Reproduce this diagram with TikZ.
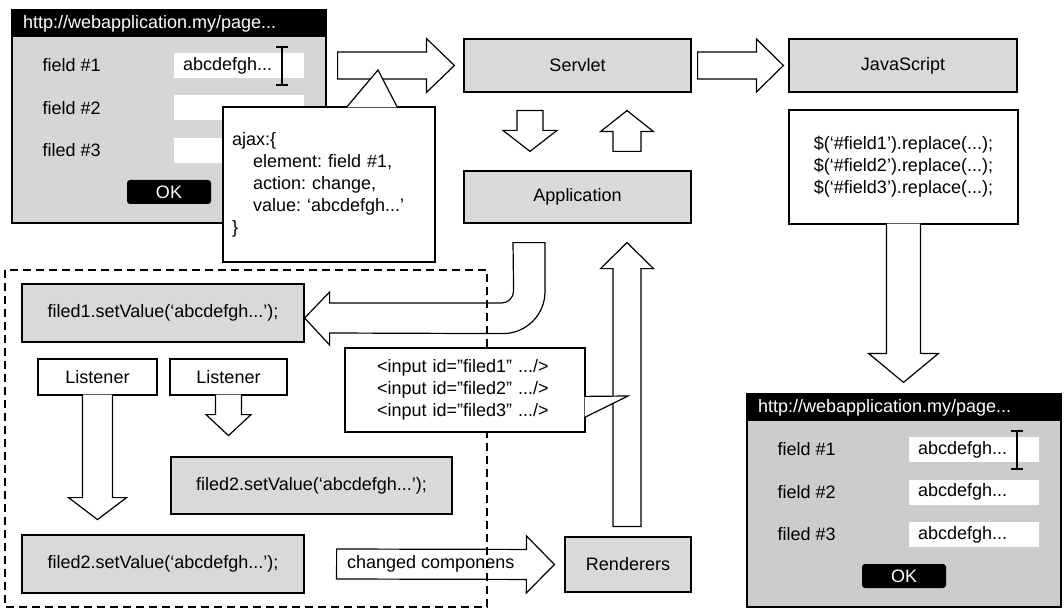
\documentclass[tikz,border=0pt]{standalone}
\usepackage{fontspec}
\setmainfont{Liberation Sans}
\usetikzlibrary{calc,positioning}
\frenchspacing

\definecolor{boxgray}{HTML}{D9D9D9}
\definecolor{wingray}{HTML}{D6D6D6}
\definecolor{wingraydark}{HTML}{CCCCCC}

\tikzset{
  graybox/.style={draw, fill=boxgray, inner sep=0pt},
  whitebox/.style={draw, fill=white, inner sep=0pt},
  blockarr/.style={draw, fill=white, line join=miter},
  window/.style={draw, minimum width=314pt, minimum height=213pt, inner sep=0pt},
  titlebar/.style={fill=black, text=white, anchor=north, minimum height=27pt, inner xsep=11pt, inner ysep=0pt, text width=292pt, align=left},
  inputfield/.style={fill=white, minimum height=25pt, inner xsep=9pt, inner ysep=0pt, text width=112pt, align=left},
  okbutton/.style={fill=black, text=white, rounded corners=3pt, minimum width=84pt, minimum height=24pt, inner sep=0pt},
  fieldlabel/.style={anchor=west, inner xsep=0pt},
  region/.style={draw, dash pattern=on 8pt off 5pt}
}

% freccia piena da #1 a #2: mezza asta #3, mezza punta #4, lunghezza punta #5
\newcommand{\blockarrow}[5]{%
  \coordinate (ba) at ($(#2)!#5!(#1)$);
  \draw[blockarr] ($(#1)!#3!90:(#2)$) -- ($(ba)!#3!-90:(#1)$) -- ($(ba)!#4!-90:(#1)$) -- (#2)
    -- ($(ba)!#4!90:(#1)$) -- ($(ba)!#3!90:(#1)$) -- ($(#1)!#3!-90:(#2)$) -- cycle;}

% freccia verso il basso attaccata al lato inferiore di un nodo
\newcommand{\tailarrow}[5]{%
  \draw[blockarr] ($(#1.south)+(#3,-1)$) -- ($(#2)+(#3,-#5)$) -- ($(#2)+(#4,-#5)$) -- (#2)
    -- ($(#2)+(-#4,-#5)$) -- ($(#2)+(-#3,-#5)$) -- ($(#1.south)+(-#3,-1)$);}

\begin{document}
\begin{tikzpicture}[x=1pt, y=-1pt, line width=1.2pt, font=\fontsize{18}{22}\selectfont]
\useasboundingbox (0,0) rectangle (1064,612);

% Pagina iniziale
\node[window, fill=wingray] (w1) at (169,116.5) {};
\node[titlebar] (w1bar) at (w1.north) {http://webapplication.my/page...};
\node[fieldlabel] (w1lab1) at (42,65.5) {field \#1};
\node[fieldlabel] (w1lab2) at (42,108) {field \#2};
\node[fieldlabel] (w1lab3) at (42,150.5) {filed \#3};
\node[inputfield] (w1in1) at (239,65.5) {abcdefgh...};
\node[inputfield] (w1in2) at (239,108) {};
\node[inputfield] (w1in3) at (239,150.5) {};
\draw (276,47) -- (288,47) (282,47) -- (282,85) (276,85) -- (288,85);
\node[okbutton] (w1ok) at (169,192) {OK};

% Pagina aggiornata
\begin{scope}[shift={(735,384)}]
\node[window, fill=wingraydark] (w2) at (169,116.5) {};
\node[titlebar] (w2bar) at (w2.north) {http://webapplication.my/page...};
\node[fieldlabel] (w2lab1) at (42,65.5) {field \#1};
\node[fieldlabel] (w2lab2) at (42,108) {field \#2};
\node[fieldlabel] (w2lab3) at (42,150.5) {filed \#3};
\node[inputfield] (w2in1) at (239,65.5) {abcdefgh...};
\node[inputfield] (w2in2) at (239,108) {abcdefgh...};
\node[inputfield] (w2in3) at (239,150.5) {abcdefgh...};
\draw (276,47) -- (288,47) (282,47) -- (282,85) (276,85) -- (288,85);
\node[okbutton] (w2ok) at (169,192) {OK};
\end{scope}

% Server
\node[graybox, minimum width=227pt, minimum height=53pt] (servlet) at (577.5,65.5) {Servlet};
\node[graybox, minimum width=228pt, minimum height=53pt] (js) at (903,65.5) {JavaScript};
\node[graybox, minimum width=227pt, minimum height=52pt] (app) at (577.5,197) {Application};
\node[whitebox, minimum width=229pt, minimum height=114pt, align=center] (jscode) at (903.5,167)
  {\$(‘\#field1’).replace(...);\\\$(‘\#field2’).replace(...);\\\$(‘\#field3’).replace(...);};

% Componenti
\node[graybox, minimum width=282pt, minimum height=58pt] (f1) at (163,313) {filed1.setValue(‘abcdefgh...’);};
\node[graybox, minimum width=281pt, minimum height=57pt] (f2a) at (311.5,485.5) {filed2.setValue(‘abcdefgh...’);};
\node[graybox, minimum width=282pt, minimum height=58pt] (f2b) at (163,564) {filed2.setValue(‘abcdefgh...’);};
\node[graybox, minimum width=126pt, minimum height=55pt] (rend) at (628,564.5) {Renderers};
\node[whitebox, minimum width=119pt, minimum height=36pt] (l1) at (97.5,377) {Listener};
\node[whitebox, minimum width=117pt, minimum height=36pt] (l2) at (228.5,377) {Listener};

% Frecce
\coordinate (a1s) at ($(w1.east |- servlet.west)+(11,0)$);
\coordinate (a1e) at ($(servlet.west)+(-9,0)$);
\blockarrow{a1s}{a1e}{13.5pt}{27pt}{28pt}
\coordinate (a2s) at ($(servlet.east)+(6,0)$);
\coordinate (a2e) at ($(js.west)+(-5,0)$);
\blockarrow{a2s}{a2e}{13.5pt}{26.5pt}{27pt}
\coordinate (a3s) at ($(servlet.south)+(-47.5,18)$);
\coordinate (a3e) at ($(app.north)+(-47.5,-19)$);
\blockarrow{a3s}{a3e}{13pt}{27pt}{21pt}
\coordinate (a4s) at ($(app.north)+(49.5,-19)$);
\coordinate (a4e) at ($(servlet.south)+(49.5,18)$);
\blockarrow{a4s}{a4e}{14pt}{26.5pt}{21pt}
\coordinate (a5s) at ($(rend.north)+(-1,-10)$);
\coordinate (a5e) at ($(app.south)+(49.5,19)$);
\blockarrow{a5s}{a5e}{14pt}{26.5pt}{26pt}
\coordinate (a6s) at ($(f2b.east)+(32,0)$);
\coordinate (a6e) at ($(rend.west)+(-10,0)$);
\blockarrow{a6s}{a6e}{15pt}{28.5pt}{28pt}
\node[fieldlabel] (chg) at ($(a6s)+(10,0)$) {changed componens};

% Freccia a U verso il componente
\coordinate (uatip) at ($(f1.east)+(0,5)$);
\draw[blockarr] ($(app.south)+(-64.5,19)$) -- ++(32,0) -- ++(0,49) arc[start angle=0, end angle=90, radius=42]
  -- ($(uatip)+(25,15)$) -- ($(uatip)+(25,27)$) -- (uatip) -- ($(uatip)+(25,-26)$) -- ($(uatip)+(25,-15)$)
  -- ++(172,0) arc[start angle=90, end angle=0, radius=12] -- cycle;

% Listener e codice
\coordinate (l1tip) at ($(l1.south)+(0,124)$);
\tailarrow{l1}{l1tip}{15}{29}{22}
\coordinate (l2tip) at ($(l2.south)+(0,40)$);
\tailarrow{l2}{l2tip}{13}{22.5}{21}
\coordinate (jtip) at ($(w2.north -| jscode.south)+(0,-11)$);
\tailarrow{jscode}{jtip}{17}{35}{29}

% Richiesta ajax
\node[whitebox, inner xsep=9pt, text width=194pt, minimum height=155pt, align=left] (ajax) at (329,184.5)
  {ajax:\{\\\hspace*{21pt}element: field \#1,\\\hspace*{21pt}action: change,\\\hspace*{21pt}value: ‘abcdefgh...’\\\}};
\coordinate (ajtip) at (378,70);
\draw[blockarr] ($(ajax.north west)+(124,1)$) -- (ajtip) -- ($(ajax.north west)+(175,1)$);

% Lato server
\draw[region] (5,270) rectangle (487,607);

% HTML generato
\node[whitebox, inner xsep=32pt, text width=176pt, minimum height=84pt, align=left] (inp) at (465,390)
  {<input id=”filed1” .../>\\<input id=”filed2” .../>\\<input id=”filed3” .../>};
\coordinate (inptip) at (628,396);
\draw[blockarr] ($(inp.north east)+(-1,49)$) -- (inptip) -- ($(inp.north east)+(-1,70)$);
\end{tikzpicture}
\end{document}
